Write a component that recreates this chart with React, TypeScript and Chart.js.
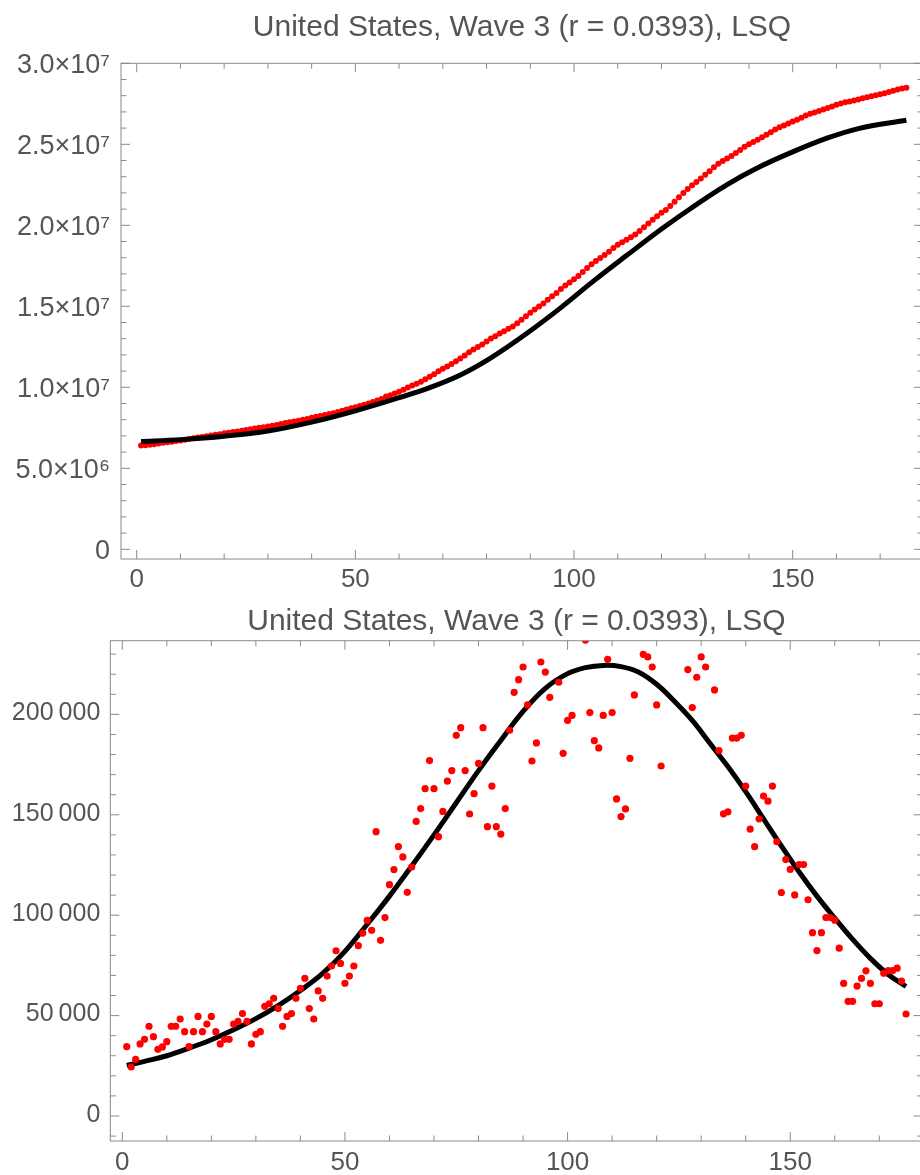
import React, { useEffect, useRef } from "react";
import { Chart, registerables } from "chart.js";

Chart.register(...registerables);

const FONT = "'Liberation Sans', Arial, Helvetica, sans-serif";
const TEXT = "#555555";
const FRAME = "#8a8a8a";
const RED = "#ff0000";

const chartTitle = "United States, Wave 3 (r = 0.0393), LSQ";

// Daily new cases, days 1..176 (values above the plot range are clipped in the picture)
const dailyNewCases = [
  34500, 24400, 28200, 35900, 38200, 44700, 39500, 33200, 34400, 37000,
  44700, 44700, 48300, 42000, 34500, 42000, 49600, 42000, 45800, 49600,
  42000, 35900, 38200, 38200, 45800, 47100, 51000, 47100, 35900, 40700,
  42000, 54600, 55900, 58600, 53500, 44700, 49600, 51000, 58600, 63600,
  68600, 53500, 48300, 62300, 58600, 69700, 74700, 82300, 76000, 66100,
  69700, 74700, 84800, 91100, 97400, 92500, 141600, 87500, 98800, 115200,
  122700, 134100, 129000, 111400, 124000, 146700, 153100, 163000, 177000, 163000,
  139100, 151700, 166800, 172000, 189600, 193400, 172000, 150400, 160500, 175600,
  193400, 144100, 164300, 144100, 140400, 153100, 192100, 211000, 217300, 223600,
  204700, 176800, 185800, 226100, 221100, 208500, 245000, 216000, 180600, 197000,
  199500, 245000, 250000, 237000, 200900, 186900, 183300, 199500, 227400, 200900,
  157900, 149100, 152900, 178100, 209700, 239000, 229900, 228600, 223600, 204700,
  174300, 250000, 260000, 280000, 260000, 250000, 222300, 203400, 218500, 228600,
  223600, 239000, 212200, 182000, 150500, 151500, 188200, 188200, 189600, 164300,
  142900, 134100, 148000, 159300, 156800, 164300, 136600, 111300, 127700, 122800,
  110100, 125200, 125200, 107700, 91300, 82400, 91300, 98800, 98800, 97500,
  83600, 66000, 57100, 57100, 64700, 68500, 72300, 66000, 55900, 55900,
  71100, 72400, 72400, 73600, 67200, 50800,
];

// Cumulative cases (thousands), days 1..176
const cumulativeCasesK = [
  6400.0, 6424.4, 6452.6, 6488.5, 6526.7, 6571.4, 6610.9, 6644.1, 6678.5, 6715.5,
  6760.2, 6804.9, 6853.2, 6895.2, 6929.7, 6971.7, 7021.3, 7063.3, 7109.1, 7158.7,
  7200.7, 7236.6, 7274.8, 7313.0, 7358.8, 7405.9, 7456.9, 7504.0, 7539.9, 7580.6,
  7622.6, 7677.2, 7733.1, 7791.7, 7845.2, 7889.9, 7939.5, 7990.5, 8049.1, 8112.7,
  8181.3, 8234.8, 8283.1, 8345.4, 8404.0, 8473.7, 8548.4, 8630.7, 8706.7, 8772.8,
  8842.5, 8917.2, 9002.0, 9093.1, 9190.5, 9283.0, 9424.6, 9512.1, 9610.9, 9726.1,
  9848.8, 9982.9, 10111.9, 10223.3, 10347.3, 10494.0, 10647.1, 10810.1, 10987.1, 11150.1,
  11289.2, 11440.9, 11607.7, 11779.7, 11969.3, 12162.7, 12334.7, 12485.1, 12645.6, 12821.2,
  13014.6, 13158.7, 13323.0, 13467.1, 13607.5, 13760.6, 13952.7, 14163.7, 14381.0, 14604.6,
  14809.3, 14986.1, 15171.9, 15398.0, 15619.1, 15827.6, 16072.6, 16288.6, 16469.2, 16666.2,
  16865.7, 17110.7, 17360.7, 17597.7, 17798.6, 17985.5, 18168.8, 18368.3, 18595.7, 18796.6,
  18954.5, 19103.6, 19256.5, 19434.6, 19644.3, 19883.3, 20113.2, 20341.8, 20565.4, 20770.1,
  20944.4, 21194.4, 21454.4, 21734.4, 21994.4, 22244.4, 22466.7, 22670.1, 22888.6, 23117.2,
  23340.8, 23579.8, 23792.0, 23974.0, 24124.5, 24276.0, 24464.2, 24652.4, 24842.0, 25006.3,
  25149.2, 25283.3, 25431.3, 25590.6, 25747.4, 25911.7, 26048.3, 26159.6, 26287.3, 26410.1,
  26520.2, 26645.4, 26770.6, 26878.3, 26969.6, 27052.0, 27143.3, 27242.1, 27340.9, 27438.4,
  27522.0, 27588.0, 27645.1, 27702.2, 27766.9, 27835.4, 27907.7, 27973.7, 28029.6, 28085.5,
  28156.6, 28229.0, 28301.4, 28375.0, 28442.2, 28493.0,
];

// Fitted cumulative curve (millions) sampled at these days
const cumulativeFitDays = [1, 10, 20, 30, 40, 50, 60, 67, 74, 81, 89, 97, 104, 112, 120, 127, 135, 142, 150, 158, 165, 176];
const cumulativeFitM = [6.65, 6.77, 6.98, 7.30, 7.85, 8.55, 9.36, 9.98, 10.76, 11.82, 13.29, 14.92, 16.46, 18.13, 19.77, 21.10, 22.51, 23.55, 24.53, 25.39, 25.97, 26.48];

// Fitted daily curve (thousands) sampled at these days
const dailyFitDays = [1, 5, 10, 15, 20, 25, 30, 35, 40, 45, 50, 55, 60, 65, 70, 75, 80, 85, 90, 95, 100, 104, 108, 112, 116, 120, 124, 128, 132, 136, 140, 144, 148, 152, 156, 160, 164, 168, 172, 176];
const dailyFitK = [25.2, 27.2, 30.0, 33.8, 38.0, 43.0, 48.5, 55.0, 62.5, 71.0, 82.0, 95.5, 109.5, 124.5, 140.0, 156.0, 172.0, 187.0, 201.5, 213.0, 220.3, 223.3, 224.4, 223.8, 221.0, 215.0, 206.5, 197.0, 185.5, 174.0, 161.5, 148.0, 134.5, 121.5, 109.5, 98.5, 88.0, 78.5, 70.5, 64.5];

// Tick values
const xLabelTicks = [0, 50, 100, 150];
const xMinorTicks = [10, 20, 30, 40, 60, 70, 80, 90, 110, 120, 130, 140, 160, 170];
const topYLabelTicksM = [0, 5, 10, 15, 20, 25, 30];
const topYMinorTicksM = [1, 2, 3, 4, 6, 7, 8, 9, 11, 12, 13, 14, 16, 17, 18, 19, 21, 22, 23, 24, 26, 27, 28, 29];
const bottomYLabelTicks = [0, 50000, 100000, 150000, 200000];
const bottomYMinorTicksK = [-10, 10, 20, 30, 40, 60, 70, 80, 90, 110, 120, 130, 140, 160, 170, 180, 190, 210, 220, 230];

const SUP: Record<number, string> = { 0: "\u2070", 1: "\u00b9", 2: "\u00b2", 3: "\u00b3", 4: "\u2074", 5: "\u2075", 6: "\u2076", 7: "\u2077", 8: "\u2078", 9: "\u2079" };

function sciLabel(v: number): string {
  if (v === 0) return "0";
  const e = Math.floor(Math.log10(Math.abs(v)) + 1e-9);
  const m = v / Math.pow(10, e);
  return `${m.toFixed(1)}\u00d710${SUP[e]}`;
}

function groupedLabel(v: number): string {
  if (v === 0) return "0";
  const th = Math.floor(v / 1000);
  const rest = String(v % 1000).padStart(3, "0");
  return `${th}\u2009${rest}`;
}

function framePlugin(xMaj: number[], xMin: number[], yMaj: number[], yMin: number[]) {
  return {
    id: "mmaFrame",
    afterDatasetsDraw(chart: any) {
      const { ctx, chartArea: a, scales } = chart;
      const sx = scales.x;
      const sy = scales.y;
      const MAJ = 9;
      const MIN = 5.5;
      ctx.save();
      ctx.strokeStyle = FRAME;
      ctx.lineWidth = 1;
      ctx.strokeRect(a.left, a.top, a.right - a.left, a.bottom - a.top);
      ctx.beginPath();
      const xt = (v: number, len: number) => {
        const p = sx.getPixelForValue(v);
        ctx.moveTo(p, a.bottom);
        ctx.lineTo(p, a.bottom - len);
        ctx.moveTo(p, a.top);
        ctx.lineTo(p, a.top + len);
      };
      const yt = (v: number, len: number) => {
        const p = sy.getPixelForValue(v);
        ctx.moveTo(a.left, p);
        ctx.lineTo(a.left + len, p);
        ctx.moveTo(a.right, p);
        ctx.lineTo(a.right - len, p);
      };
      xMaj.forEach((v) => xt(v, MAJ));
      xMin.forEach((v) => xt(v, MIN));
      yMaj.forEach((v) => yt(v, MAJ));
      yMin.forEach((v) => yt(v, MIN));
      ctx.stroke();
      ctx.restore();
    },
  };
}

function titleOptions(padTop: number, padBottom: number) {
  return {
    display: true,
    text: chartTitle,
    color: TEXT,
    fullSize: false,
    font: { family: FONT, size: 30, weight: "normal", lineHeight: 1.2 },
    padding: { top: padTop, bottom: padBottom },
  };
}

function topConfig(): any {
  const yMajor = topYLabelTicksM.map((v) => v * 1e6);
  const yMinor = topYMinorTicksM.map((v) => v * 1e6);
  return {
    type: "scatter",
    data: {
      datasets: [
        {
          label: "fit",
          data: cumulativeFitDays.map((d, i) => ({ x: d, y: cumulativeFitM[i] * 1e6 })),
          showLine: true,
          borderColor: "#000000",
          borderWidth: 5,
          pointRadius: 0,
          cubicInterpolationMode: "monotone",
          fill: false,
          clip: 0,
        },
        {
          label: "data",
          data: cumulativeCasesK.map((v, i) => ({ x: i + 1, y: v * 1000 })),
          pointRadius: 3.0,
          pointBackgroundColor: RED,
          pointBorderWidth: 0,
          backgroundColor: RED,
          borderWidth: 0,
          clip: 0,
        },
      ],
    },
    options: {
      responsive: false,
      animation: false,
      events: [],
      layout: { padding: { left: 0, right: 7, top: 0, bottom: 0 } },
      plugins: {
        legend: { display: false },
        tooltip: { enabled: false },
        title: titleOptions(9.5, 17.8),
      },
      scales: {
        x: {
          type: "linear",
          min: -3.59,
          max: 179.8,
          grid: { display: false, drawTicks: false },
          border: { display: false },
          ticks: { color: TEXT, font: { family: FONT, size: 26 }, padding: 5.5, maxRotation: 0, autoSkip: false },
          afterBuildTicks: (s: any) => { s.ticks = xLabelTicks.map((v) => ({ value: v })); },
          afterFit: (s: any) => { s.height = 41; },
        },
        y: {
          type: "linear",
          min: -598800,
          max: 3.0e7,
          grid: { display: false, drawTicks: false },
          border: { display: false },
          ticks: {
            color: TEXT,
            font: { family: FONT, size: 27 },
            padding: 11,
            labelOffset: 2,
            autoSkip: false,
            callback: (v: number) => sciLabel(v),
          },
          afterBuildTicks: (s: any) => { s.ticks = yMajor.map((v) => ({ value: v })); },
          afterFit: (s: any) => { s.width = 121; },
        },
      },
    },
    plugins: [framePlugin(xLabelTicks, xMinorTicks, yMajor, yMinor)],
  };
}

function bottomConfig(): any {
  const yMinor = bottomYMinorTicksK.map((v) => v * 1000);
  return {
    type: "scatter",
    data: {
      datasets: [
        {
          label: "data",
          data: dailyNewCases.map((v, i) => ({ x: i + 1, y: v })),
          pointRadius: 3.6,
          pointBackgroundColor: RED,
          pointBorderWidth: 0,
          backgroundColor: RED,
          borderWidth: 0,
          clip: 0,
        },
        {
          label: "fit",
          data: dailyFitDays.map((d, i) => ({ x: d, y: dailyFitK[i] * 1000 })),
          showLine: true,
          borderColor: "#000000",
          borderWidth: 5,
          pointRadius: 0,
          tension: 0.4,
          fill: false,
          clip: 0,
        },
      ],
    },
    options: {
      responsive: false,
      animation: false,
      events: [],
      layout: { padding: { left: 0, right: 7.5, top: 0, bottom: 0 } },
      plugins: {
        legend: { display: false },
        tooltip: { enabled: false },
        title: titleOptions(3.7, 1.0),
      },
      scales: {
        x: {
          type: "linear",
          min: -2.69,
          max: 179.7,
          grid: { display: false, drawTicks: false },
          border: { display: false },
          ticks: { color: TEXT, font: { family: FONT, size: 26 }, padding: 6.5, maxRotation: 0, autoSkip: false },
          afterBuildTicks: (s: any) => { s.ticks = xLabelTicks.map((v) => ({ value: v })); },
          afterFit: (s: any) => { s.height = 34; },
        },
        y: {
          type: "linear",
          min: -12450,
          max: 236700,
          grid: { display: false, drawTicks: false },
          border: { display: false },
          ticks: {
            color: TEXT,
            font: { family: FONT, size: 25 },
            padding: 10,
            labelOffset: -1,
            autoSkip: false,
            callback: (v: number) => groupedLabel(v),
          },
          afterBuildTicks: (s: any) => { s.ticks = bottomYLabelTicks.map((v) => ({ value: v })); },
          afterFit: (s: any) => { s.width = 110.3; },
        },
      },
    },
    plugins: [framePlugin(xLabelTicks, xMinorTicks, bottomYLabelTicks, yMinor)],
  };
}

export default function App() {
  const topRef = useRef<HTMLCanvasElement>(null);
  const botRef = useRef<HTMLCanvasElement>(null);

  useEffect(() => {
    Chart.defaults.font.family = FONT;
    const c1 = new Chart(topRef.current as HTMLCanvasElement, topConfig());
    const c2 = new Chart(botRef.current as HTMLCanvasElement, bottomConfig());
    return () => {
      c1.destroy();
      c2.destroy();
    };
  }, []);

  return (
    <div style={{ position: "absolute", left: 0, top: 0, width: 920, height: 1175, overflow: "hidden", background: "#ffffff" }}>
      <canvas ref={topRef} width={930} height={600} style={{ position: "absolute", left: 0, top: 0, width: 930, height: 600 }} />
      <canvas ref={botRef} width={930} height={575} style={{ position: "absolute", left: 0, top: 600, width: 930, height: 575 }} />
    </div>
  );
}
